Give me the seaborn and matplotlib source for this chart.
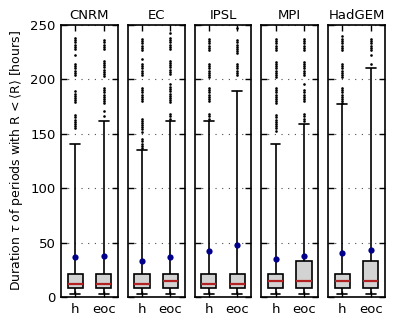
import numpy as np
import pandas as pd
import matplotlib
matplotlib.use('Agg')
import matplotlib.pyplot as plt
import seaborn as sns

# models and periods
models = ['CNRM', 'EC', 'IPSL', 'MPI', 'HadGEM']
periods = ['h', 'eoc']

# box statistics [h, eoc] per model (hours)
whisk_lo = [[3, 3], [3, 3], [3, 3], [3, 3], [3, 3]]
q1 = [[8.3, 8.3], [8.3, 8.3], [8.3, 8.3], [8.3, 8.3], [8.3, 8.3]]
median = [[11.7, 11.7], [11.7, 14.7], [11.7, 11.7], [14.7, 14.7], [14.7, 14.7]]
q3 = [[20.9, 20.9], [20.9, 20.9], [20.9, 20.9], [20.9, 33.1], [20.9, 33.1]]
whisk_hi = [[141, 162], [135, 162], [162, 189], [141, 159], [177, 210]]
means = [[36.5, 37.4], [33.1, 36.5], [42.3, 47.5], [34.9, 37.7], [40.4, 43.2]]

# outliers
cnrm_h = [228, 230, 232, 234, 236, 238, 222, 204, 206, 208, 210, 212, 214,
          179, 181, 183, 185, 187, 189, 155, 157, 159, 161, 163, 165, 167]
cnrm_eoc = [228, 230, 232, 234, 236, 203, 205, 207, 209, 211, 213, 215, 217,
            178, 180, 182, 184, 186, 188, 190, 192, 171, 166]
ec_h = [227, 229, 231, 233, 235, 237, 219, 204, 206, 208, 210, 212, 214,
        180, 182, 184, 186, 188, 190, 192, 152, 154, 156, 158, 160, 162, 164,
        137, 139, 141, 143, 145]
ec_eoc = [243, 228, 230, 232, 234, 236, 238, 205, 207, 209, 211, 213, 215, 217,
          179, 181, 183, 185, 187, 189, 191, 193, 196, 164, 166, 168]
ipsl_h = [227, 229, 231, 233, 235, 237, 202, 204, 206, 208, 210, 212, 214,
          180, 182, 184, 186, 188, 190, 192, 164, 166, 168]
ipsl_eoc = [247, 224, 226, 228, 230, 232, 234, 236, 204, 206, 208, 210, 212, 214]
mpi_h = [227, 229, 231, 233, 235, 237, 202, 204, 206, 208, 210, 212, 214, 216,
         178, 180, 182, 184, 186, 188, 190, 192, 153, 155, 157, 159, 161, 163,
         165, 167]
mpi_eoc = [227, 229, 231, 233, 235, 237, 204, 206, 208, 210, 212, 214, 216,
           196, 180, 182, 184, 186, 188, 190, 162, 164, 166, 168]
had_h = [227, 229, 231, 233, 235, 237, 240, 202, 204, 206, 208, 210, 212, 214,
         178, 180, 182, 184, 186, 188, 190, 192]
had_eoc = [227, 229, 231, 233, 235, 237, 222, 214]
outliers = [[cnrm_h, cnrm_eoc], [ec_h, ec_eoc], [ipsl_h, ipsl_eoc],
            [mpi_h, mpi_eoc], [had_h, had_eoc]]

sns.set_style('ticks')
plt.rcParams.update({
    'font.family': ['DejaVu Sans'],
    'text.color': 'black',
    'axes.labelcolor': 'black',
    'xtick.color': 'black',
    'ytick.color': 'black',
    'axes.edgecolor': 'black',
    'axes.linewidth': 1.2,
    'font.size': 9,
})

fig, axes = plt.subplots(1, 5, sharey=True, figsize=(3.94, 3.24), dpi=100)
fig.subplots_adjust(left=0.155, right=0.977, top=0.923, bottom=0.083, wspace=0.175)

for i, ax in enumerate(axes):
    # core values so the box/whiskers land on the read-off stats
    rows = []
    for j, p in enumerate(periods):
        for v in [whisk_lo[i][j], q1[i][j], median[i][j], q3[i][j], whisk_hi[i][j]]:
            rows.append({'period': p, 'value': v})
    core = pd.DataFrame(rows)

    sns.boxplot(data=core, x='period', y='value', order=periods, ax=ax,
                width=0.54, whis=(0, 100), showfliers=False, saturation=1,
                color='#d3d3d3', linecolor='black', linewidth=1.2,
                medianprops=dict(color='#b22222', linewidth=1.6))
    # widen the whisker caps a bit
    for ln in ax.lines:
        xd = np.asarray(ln.get_xdata(), dtype=float)
        yd = np.asarray(ln.get_ydata(), dtype=float)
        if len(xd) == 2 and yd[0] == yd[1] and ln.get_color() == 'black':
            c = xd.mean()
            ln.set_xdata([c - 0.17, c + 0.17])

    out = pd.DataFrame([{'period': p, 'value': v}
                        for j, p in enumerate(periods) for v in outliers[i][j]])
    sns.stripplot(data=out, x='period', y='value', order=periods, ax=ax,
                  jitter=False, color='black', size=1.9, linewidth=0, zorder=3)

    sns.stripplot(x=periods, y=means[i], order=periods, ax=ax, jitter=False,
                  color='#00008b', size=4.5, linewidth=0, zorder=4)

    ax.set_ylim(0, 250)
    ax.set_xlim(-0.5, 1.5)
    ax.set_yticks(range(0, 251, 50))
    ax.yaxis.grid(True, linestyle=(0, (1, 5)), linewidth=0.8, color='0.3')
    ax.set_axisbelow(True)
    ax.tick_params(direction='in', top=True, right=True, length=4, width=1,
                   labelsize=9.5, pad=4)
    ax.set_title(models[i], fontsize=9.5, pad=4)
    ax.set_xlabel('')
    ax.set_ylabel('')

axes[0].set_ylabel(r'Duration $\tau$ of periods with R$\,<\langle$R$\rangle$ [hours]',
                   fontsize=9)

fig.savefig('out.png', dpi=100)
